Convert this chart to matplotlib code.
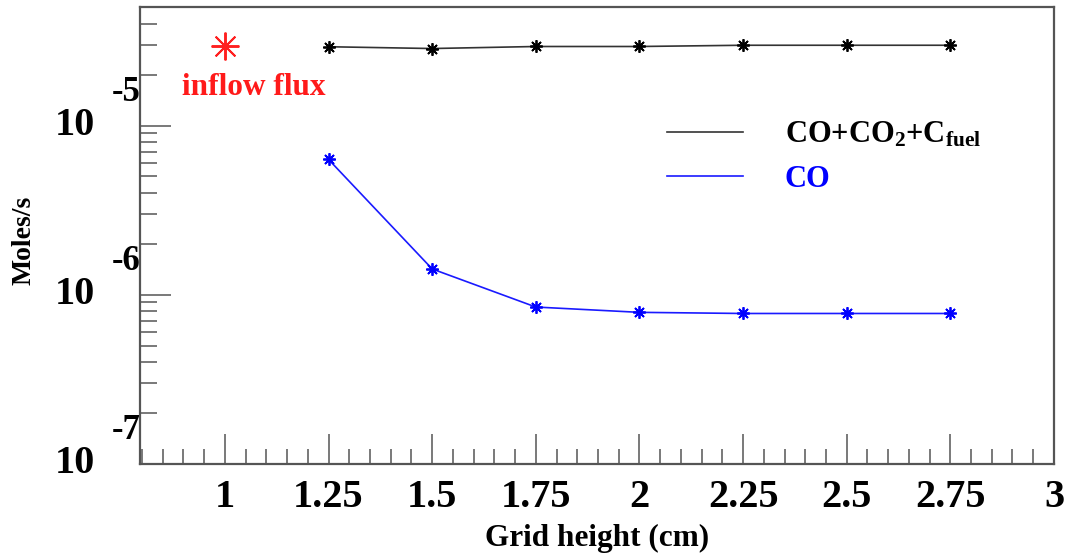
import matplotlib
matplotlib.use("Agg")
import matplotlib.pyplot as plt
import matplotlib.transforms as mtransforms
from matplotlib.ticker import MultipleLocator, LogLocator, NullFormatter, FixedLocator


# values
grid_height = [1.25, 1.5, 1.75, 2.0, 2.25, 2.5, 2.75]
total_carbon = [2.92e-5, 2.85e-5, 2.93e-5, 2.93e-5, 2.98e-5, 2.98e-5, 2.98e-5]
co_flux = [6.3e-6, 1.42e-6, 8.46e-7, 7.87e-7, 7.75e-7, 7.75e-7, 7.75e-7]
inflow_x = [1.0]
inflow_flux = [2.93e-5]

x_ticks = [1, 1.25, 1.5, 1.75, 2, 2.25, 2.5, 2.75, 3]
x_tick_labels = ['1', '1.25', '1.5', '1.75', '2', '2.25', '2.5', '2.75', '3']
y_decades = [1e-7, 1e-6, 1e-5]
y_exponents = ['-7', '-6', '-5']


def plot_chart():
  plt.rcParams['font.family'] = ['Liberation Serif', 'DejaVu Serif']
  plt.rcParams['font.weight'] = 'bold'
  plt.rcParams['mathtext.fontset'] = 'custom'
  plt.rcParams['mathtext.rm'] = 'Liberation Serif:bold'
  plt.rcParams['mathtext.it'] = 'Liberation Serif:italic:bold'
  plt.rcParams['mathtext.bf'] = 'Liberation Serif:bold'

  fig = plt.figure(figsize=(10.7, 5.55), dpi=100)
  ax = fig.add_axes([0.1308, 0.164, 0.8542, 0.823])

  frame = '#555555'
  ax.plot(grid_height, total_carbon, color='#333333', lw=1.2,
          marker=(8, 2, 0), markersize=9, markeredgecolor='black',
          markeredgewidth=1.3, label=r'CO+CO$_2$+C$_{\rm fuel}$')
  ax.plot(grid_height, co_flux, color='#1a1aff', lw=1.2,
          marker=(8, 2, 0), markersize=9, markeredgecolor='#0000ff',
          markeredgewidth=1.3, label='CO')
  ax.plot(inflow_x, inflow_flux, linestyle='none', marker=(8, 2, 0),
          markersize=20, markeredgecolor='#ff2020', markeredgewidth=1.4)

  ax.text(1.07, 1.67e-5, 'inflow flux', color='#ff1a1a', fontsize=22.5,
          fontweight='bold', ha='center', va='center')

  ax.set_yscale('log')
  ax.set_xlim(0.795, 3.0)
  ax.set_ylim(1e-7, 5e-5)

  for s in ax.spines.values():
    s.set_color(frame)
    s.set_linewidth(1.6)

  ax.xaxis.set_major_locator(FixedLocator(x_ticks))
  ax.set_xticklabels(x_tick_labels)
  ax.xaxis.set_minor_locator(MultipleLocator(0.05))
  ax.yaxis.set_major_locator(FixedLocator(y_decades))
  ax.yaxis.set_minor_locator(LogLocator(base=10, subs=range(2, 10)))
  ax.yaxis.set_major_formatter(NullFormatter())
  ax.yaxis.set_minor_formatter(NullFormatter())

  ax.tick_params(axis='x', which='major', direction='in', length=21.5,
                 width=1.1, color=frame, labelsize=29, pad=11)
  ax.tick_params(axis='x', which='minor', direction='in', length=10.8,
                 width=1.1, color=frame)
  ax.tick_params(axis='y', which='major', direction='in', length=22,
                 width=1.1, color=frame)
  ax.tick_params(axis='y', which='minor', direction='in', length=12,
                 width=1.1, color=frame)
  for lab in ax.get_xticklabels():
    lab.set_fontweight('bold')

  # ROOT style "10" with exponent above
  ytrans = ax.get_yaxis_transform()
  exp_trans = mtransforms.offset_copy(ytrans, fig=fig, x=0, y=33, units='dots')
  for val, ex in zip(y_decades, y_exponents):
    ax.text(-0.049, val, '10', transform=ytrans, fontsize=29,
            fontweight='bold', ha='right', va='center')
    ax.text(-0.0306, val, ex, transform=exp_trans, fontsize=25,
            fontweight='bold', ha='left', va='center')

  ax.set_xlabel('Grid height (cm)', fontsize=22.5, fontweight='bold')
  ax.xaxis.set_label_coords(0.5, -0.164)
  ax.xaxis.label.set_va('center')
  ax.set_ylabel('Moles/s', fontsize=20, fontweight='bold')
  ax.yaxis.set_label_coords(-0.127, 0.49)
  ax.yaxis.label.set_va('center')

  leg = ax.legend(loc='center left', bbox_to_anchor=(0.5766, 0.672),
                  frameon=False, fontsize=22, handlelength=2.5,
                  handletextpad=1.35, labelspacing=0.5, borderpad=0,
                  borderaxespad=0, labelcolor=['black', '#0000ff'])
  for h in leg.legend_handles:
    h.set_marker('')

  fig.savefig('out.png', dpi=100)


def main():
  plot_chart()


if __name__ == '__main__':
  main()
